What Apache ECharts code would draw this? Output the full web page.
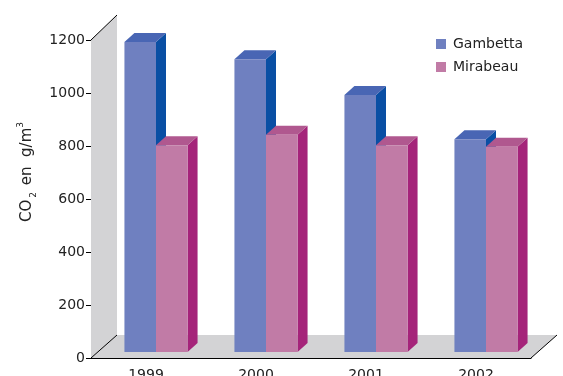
<!DOCTYPE html>
<html>
<head>
<meta charset="utf-8">
<script src="https://cdn.jsdelivr.net/npm/echarts@6/dist/echarts.min.js"></script>
<style>
  html, body { margin: 0; padding: 0; background: #fff; }
  #chart { width: 563px; height: 376px; }
</style>
</head>
<body>
<div id="chart"></div>
<script>
// CO2 levels per year at two sites
const categories = ['1999', '2000', '2001', '2002'];
const gambetta = [1170, 1105, 970, 803];
const mirabeau = [780, 820, 780, 775];
const yTicks = { min: 0, max: 1200, interval: 200 };

// face colours: front, top, side
const gambettaColors = { front: '#6f80c0', top: '#4966b4', side: '#0a4fa4' };
const mirabeauColors = { front: '#c17ba6', top: '#b0588f', side: '#a5247a' };

const FONT = 'DejaVu Sans, Verdana, sans-serif';
const TEXT = '#222';

// bar extrusion: shift of the front face and depth of the box
const BAR_SHIFT = [10, -6];
const BAR_DEPTH = [10, -9];
const BAR_RATIO = 0.287;

// oblique frame: side wall and floor
const WALL_TOP = [26, -25];
const WALL_BOTTOM = [26, -23];
const FRAME_FILL = '#d3d3d5';

function barRenderer(colors, leftSide) {
  return function (params, api) {
    const cat = api.value(0);
    const base = api.coord([cat, 0]);
    const peak = api.coord([cat, api.value(1)]);
    const band = api.size([1, 0])[0];
    const w = band * BAR_RATIO;
    const xl = (leftSide ? base[0] - w : base[0]) + BAR_SHIFT[0];
    const xr = xl + w;
    const top = peak[1] + BAR_SHIFT[1];
    const bottom = base[1] + BAR_SHIFT[1];
    const dx = BAR_DEPTH[0], dy = BAR_DEPTH[1];
    return {
      type: 'group',
      children: [
        {
          type: 'polygon',
          shape: { points: [[xr, top], [xr + dx, top + dy], [xr + dx, bottom + dy], [xr, bottom]] },
          style: { fill: colors.side }
        },
        {
          type: 'polygon',
          shape: { points: [[xl, top], [xr, top], [xr + dx, top + dy], [xl + dx, top + dy]] },
          style: { fill: colors.top }
        },
        {
          type: 'rect',
          shape: { x: xl, y: top, width: w, height: bottom - top },
          style: { fill: colors.front }
        }
      ]
    };
  };
}

function frameRenderer(params) {
  const cs = params.coordSys;
  const x0 = cs.x, x1 = cs.x + cs.width;
  const yT = cs.y, yB = cs.y + cs.height;
  const line = { stroke: '#000', lineWidth: 1 };
  return {
    type: 'group',
    children: [
      {
        type: 'polygon',
        shape: { points: [[x0, yT], [x0 + WALL_TOP[0], yT + WALL_TOP[1]], [x0 + WALL_BOTTOM[0], yB + WALL_BOTTOM[1]], [x0, yB]] },
        style: { fill: FRAME_FILL }
      },
      {
        type: 'polygon',
        shape: { points: [[x0, yB], [x0 + WALL_BOTTOM[0], yB + WALL_BOTTOM[1]], [x1 + WALL_BOTTOM[0], yB + WALL_BOTTOM[1]], [x1, yB]] },
        style: { fill: FRAME_FILL }
      },
      { type: 'line', shape: { x1: x0, y1: yT, x2: x0 + WALL_TOP[0], y2: yT + WALL_TOP[1] }, style: line },
      { type: 'line', shape: { x1: x0, y1: yB, x2: x0 + WALL_BOTTOM[0], y2: yB + WALL_BOTTOM[1] }, style: line },
      { type: 'line', shape: { x1: x1, y1: yB, x2: x1 + WALL_BOTTOM[0], y2: yB + WALL_BOTTOM[1] }, style: line }
    ]
  };
}

const chart = echarts.init(document.getElementById('chart'), null, { renderer: 'canvas' });

chart.setOption({
  animation: false,
  backgroundColor: '#fff',
  textStyle: { fontFamily: FONT },
  grid: { left: 91, right: 32, top: 40, bottom: 18, containLabel: false, outerBoundsMode: 'none' },
  legend: {
    orient: 'vertical',
    left: 431,
    top: 32,
    itemWidth: 10,
    itemHeight: 10,
    itemGap: 9,
    icon: 'rect',
    data: ['Gambetta', 'Mirabeau'],
    textStyle: { fontFamily: FONT, fontSize: 14, color: TEXT, padding: [0, 0, 0, 2] }
  },
  xAxis: {
    type: 'category',
    data: categories,
    axisLine: { lineStyle: { color: '#000', width: 1 } },
    axisTick: { length: 7, lineStyle: { color: '#000' } },
    axisLabel: { fontFamily: FONT, fontSize: 14, color: TEXT, margin: 10 }
  },
  yAxis: {
    type: 'value',
    min: yTicks.min,
    max: yTicks.max,
    interval: yTicks.interval,
    name: '{a|CO}{s|2}{a| en  g/m}{p|3}',
    nameLocation: 'middle',
    nameRotate: 90,
    nameGap: 34,
    nameTextStyle: {
      padding: [0, 0, 0, 54],
      rich: {
        a: { fontFamily: FONT, fontSize: 15, color: TEXT, lineHeight: 22, verticalAlign: 'middle' },
        s: { fontFamily: FONT, fontSize: 9, color: TEXT, lineHeight: 22, verticalAlign: 'bottom', padding: [0, 2, 0, 2] },
        p: { fontFamily: FONT, fontSize: 9, color: TEXT, lineHeight: 22, verticalAlign: 'top' }
      }
    },
    axisLine: { show: true, lineStyle: { color: '#000', width: 1 } },
    axisTick: { show: true, length: 5, lineStyle: { color: '#000' } },
    splitLine: { show: false },
    axisLabel: { fontFamily: FONT, fontSize: 14, color: TEXT, margin: 6, formatter: v => String(v) }
  },
  series: [
    {
      name: 'frame',
      type: 'custom',
      renderItem: frameRenderer,
      data: [[0, 0]],
      silent: true,
      z: 1
    },
    {
      name: 'Gambetta',
      type: 'custom',
      itemStyle: { color: gambettaColors.front },
      renderItem: barRenderer(gambettaColors, true),
      data: categories.map((c, i) => [i, gambetta[i]]),
      z: 2
    },
    {
      name: 'Mirabeau',
      type: 'custom',
      itemStyle: { color: mirabeauColors.front },
      renderItem: barRenderer(mirabeauColors, false),
      data: categories.map((c, i) => [i, mirabeau[i]]),
      z: 3
    }
  ]
});
</script>
</body>
</html>
